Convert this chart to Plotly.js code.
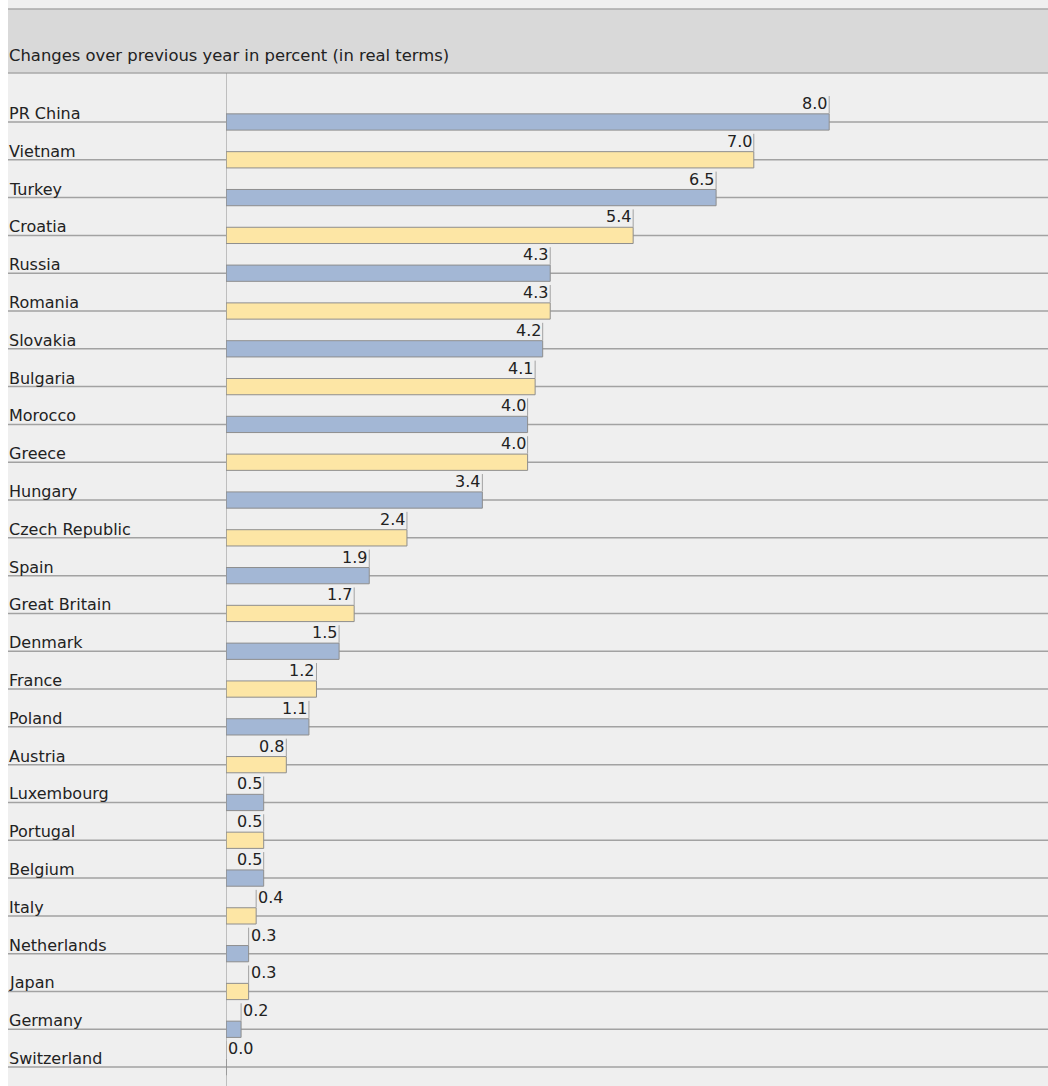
<!DOCTYPE html>
<html>
<head>
<meta charset="utf-8">
<script src="https://cdn.plot.ly/plotly-3.0.1.min.js"></script>
<style>html,body{margin:0;padding:0;background:#fff;}</style>
</head>
<body>
<div id="chart" style="width:1048px;height:1086px;"></div>
<script>
const headerText = "Changes over previous year in percent (in real terms)";
const categories = ["PR China","Vietnam","Turkey","Croatia","Russia","Romania","Slovakia","Bulgaria","Morocco","Greece","Hungary","Czech Republic","Spain","Great Britain","Denmark","France","Poland","Austria","Luxembourg","Portugal","Belgium","Italy","Netherlands","Japan","Germany","Switzerland"];
const values = [8.0,7.0,6.5,5.4,4.3,4.3,4.2,4.1,4.0,4.0,3.4,2.4,1.9,1.7,1.5,1.2,1.1,0.8,0.5,0.5,0.5,0.4,0.3,0.3,0.2,0.0];
const seriesColors = ["#a3b7d5","#fde6a5"];

const W = 1048, H = 1086, L = 226, T = 73;
const PW = W - L, PH = H - T;
const px = x => (x - L) / PW;
const py = y => (H - y) / PH;
const pos = categories.map((c, i) => i);
const rowPx = 37.8;
const font = "DejaVu Sans, Liberation Sans, Arial, sans-serif";
const fsize = 16;

const trace = {
  type: "bar", orientation: "h",
  x: values, y: pos,
  width: 0.43,
  marker: {color: pos.map(i => seriesColors[i % 2]), line: {color: "#8e8e8e", width: 1}},
  hoverinfo: "skip", showlegend: false
};

const shapes = [
  {type:"rect", xref:"paper", yref:"paper", x0:px(0), x1:px(8), y0:py(H), y1:py(0), fillcolor:"#ffffff", line:{width:0}, layer:"below"},
  {type:"rect", xref:"paper", yref:"paper", x0:px(8), x1:px(W), y0:py(73), y1:py(9), fillcolor:"#d9d9d9", line:{width:0}, layer:"below"},
  {type:"line", xref:"paper", yref:"paper", x0:px(8), x1:px(W), y0:py(9), y1:py(9), line:{color:"#a8a8a8", width:1.5}},
  {type:"line", xref:"paper", yref:"paper", x0:px(8), x1:px(W), y0:py(73), y1:py(73), line:{color:"#a8a8a8", width:1.5}},
  {type:"line", xref:"x", yref:"paper", x0:0, x1:0, y0:0, y1:1, line:{color:"#8e8e8e", width:1}}
];
pos.forEach(i => {
  shapes.push({type:"line", xref:"paper", yref:"y", x0:px(8), x1:1, y0:i, y1:i, line:{color:"#a2a2a2", width:1.5}, layer:"below"});
  shapes.push({type:"line", xref:"x", yref:"y", x0:values[i], x1:values[i], y0:i - 26/rowPx, y1:i - 8.5/rowPx, line:{color:"#a2a2a2", width:1}});
});

const annotations = [
  {xref:"paper", yref:"paper", x:px(8), y:py(58), xanchor:"left", yanchor:"bottom", yshift:-8, borderpad:0, text:headerText, showarrow:false, font:{family:font, size:16.4, color:"#222"}}
];
categories.forEach((c, i) => {
  annotations.push({xref:"paper", yref:"y", x:px(8), y:i, xanchor:"left", yanchor:"bottom", borderpad:0, yshift:-2, text:c, showarrow:false, font:{family:font, size:fsize, color:"#222"}});
  const v = values[i];
  const inside = v >= 0.5;
  annotations.push({xref:"x", yref:"y", x:v, y:i, xanchor: inside ? "right" : "left", xshift: inside ? -1 : 1, borderpad:0, yanchor:"bottom", yshift:8, text:v.toFixed(1), showarrow:false, font:{family:font, size:fsize, color:"#222"}});
});

const layout = {
  width: W, height: H,
  margin: {l: L, r: 0, t: T, b: 0, pad: 0},
  paper_bgcolor: "#efefef", plot_bgcolor: "rgba(0,0,0,0)",
  xaxis: {range: [0, PW / 75.4], showgrid: false, zeroline: false, showticklabels: false, showline: false, fixedrange: true},
  yaxis: {range: [25.5, -1.296], showgrid: false, zeroline: false, showticklabels: false, showline: false, fixedrange: true},
  shapes: shapes, annotations: annotations,
  bargap: 0
};
Plotly.newPlot("chart", [trace], layout, {displayModeBar: false, staticPlot: true});
</script>
</body>
</html>
